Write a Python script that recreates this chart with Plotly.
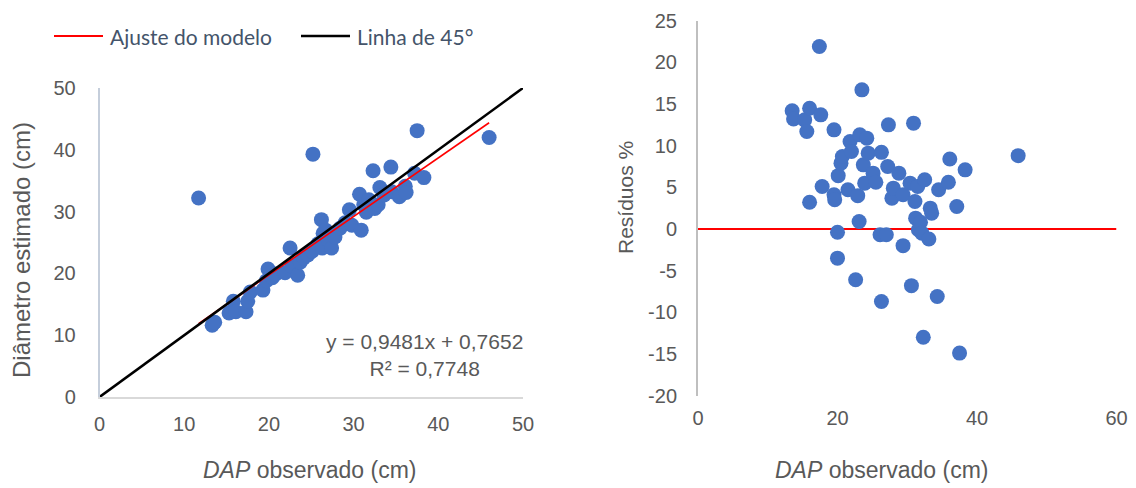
import plotly.graph_objects as go

# ---- Left panel: observed DAP vs estimated diameter ----
dap_obs = [11.7, 13.3, 13.6, 15.3, 15.8, 16.1, 17.3, 17.5, 17.8, 19.3, 19.7, 19.9, 20.4, 20.8,
           21.9, 22.5, 22.7, 23.4, 23.7, 24.1, 24.6, 25.1, 25.2, 25.8, 26.3, 26.2, 26.4, 26.7,
           27.0, 27.4, 27.8, 28.4, 29.0, 29.5, 29.8, 30.7, 30.9, 31.2, 31.5, 31.8, 32.3, 32.5,
           32.9, 33.1, 33.6, 34.4, 34.5, 35.4, 36.1, 36.2, 37.2, 37.5, 38.3, 46.0]
diam_est = [32.2, 11.6, 12.1, 13.6, 15.5, 13.8, 13.8, 15.5, 17.0, 17.3, 18.8, 20.7, 19.3, 19.9,
            20.1, 24.1, 21.2, 19.7, 21.8, 22.5, 23.0, 23.6, 39.3, 24.8, 24.1, 28.7, 26.5, 27.0,
            25.4, 24.1, 25.9, 27.3, 28.2, 30.3, 27.8, 32.8, 27.0, 31.1, 29.9, 31.9, 36.6, 30.5,
            31.1, 33.9, 32.7, 37.2, 33.2, 32.4, 34.1, 33.1, 36.2, 43.1, 35.5, 42.0]

fit_slope = 0.9481
fit_intercept = 0.7652
fit_x = [min(dap_obs), max(dap_obs)]
fit_y = [fit_slope * v + fit_intercept for v in fit_x]
line45 = [0, 50]

# ---- Right panel: residuals ----
res_x = [13.5, 13.7, 15.3, 15.6, 16.0, 17.6, 17.4, 19.5, 16.0, 17.8, 19.5, 19.6, 20.0, 20.0,
         20.1, 20.5, 20.7, 21.5, 21.8, 22.0, 22.6, 22.9, 23.1, 23.2, 23.5, 23.7, 23.9, 24.2,
         24.4, 25.1, 25.5, 26.1, 26.3, 26.3, 27.0, 27.2, 27.3, 27.8, 28.0, 28.8, 29.4, 29.4,
         30.4, 30.6, 30.9, 31.1, 31.2, 31.5, 31.6, 31.9, 32.1, 32.3, 32.5, 33.1, 33.3, 33.5,
         34.3, 34.5, 35.9, 36.1, 37.1, 37.5, 38.3, 45.9]
res_y = [14.2, 13.2, 13.1, 11.7, 14.5, 13.7, 21.9, 11.9, 3.2, 5.1, 4.1, 3.5, -0.4, -3.5,
         6.4, 7.9, 8.7, 4.7, 10.5, 9.3, -6.1, 4.0, 0.9, 11.3, 16.7, 7.7, 5.5, 10.9,
         9.1, 6.7, 5.6, -0.7, 9.2, -8.7, -0.7, 7.5, 12.5, 3.7, 4.9, 6.7, 4.1, -2.0,
         5.5, -6.8, 12.7, 3.3, 1.3, 5.1, -0.1, 0.8, -0.5, -13.0, 5.9, -1.2, 2.5, 1.9,
         -8.1, 4.7, 5.6, 8.4, 2.7, -14.9, 7.1, 8.8]
zero_x = [0, 60]
zero_y = [0, 0]

left_ticks = [0, 10, 20, 30, 40, 50]
right_xticks = [0, 20, 40, 60]
right_yticks = [25, 20, 15, 10, 5, 0, -5, -10, -15, -20]
right_yticklabels = ["25", "20", "15", "10", "5", "0", "-5", "-10", "-15", "-20"]

legend_names = ["Ajuste do modelo", "Linha de 45°"]

BLUE = "#4472C4"
TICK = "#595959"
LEG = "#44546A"
FONT = "Arial"
W, H = 1136, 488

fig = go.Figure()
fig.add_trace(go.Scatter(x=dap_obs, y=diam_est, mode="markers", showlegend=False,
                         marker=dict(color=BLUE, size=15), xaxis="x", yaxis="y"))
fig.add_trace(go.Scatter(x=fit_x, y=fit_y, mode="lines", name=legend_names[0], showlegend=False,
                         line=dict(color="#FF0000", width=1.6), xaxis="x", yaxis="y"))
fig.add_trace(go.Scatter(x=line45, y=line45, mode="lines", name=legend_names[1], showlegend=False,
                         line=dict(color="#000000", width=2.6), xaxis="x", yaxis="y"))
fig.add_trace(go.Scatter(x=zero_x, y=zero_y, mode="lines", showlegend=False,
                         line=dict(color="#FF0000", width=2), xaxis="x2", yaxis="y2"))
fig.add_trace(go.Scatter(x=res_x, y=res_y, mode="markers", showlegend=False,
                         marker=dict(color=BLUE, size=15), xaxis="x2", yaxis="y2"))

ax_common = dict(showgrid=False, zeroline=False, ticks="", automargin=False,
                 tickfont=dict(family=FONT, size=20, color=TICK))

fig.update_layout(
    width=W, height=H,
    paper_bgcolor="white", plot_bgcolor="white",
    margin=dict(l=0, r=0, t=0, b=0, autoexpand=False),
    xaxis=dict(domain=[99.5 / W, 523 / W], range=[0, 50], tickvals=left_ticks,
               showline=True, linecolor="#D9D9D9", linewidth=1.5,
               ticklabelstandoff=8, anchor="y", **ax_common),
    yaxis=dict(domain=[1 - 397 / H, 1 - 88 / H], range=[0, 50], tickvals=left_ticks,
               showline=True, linecolor="#C5CEDB", linewidth=1.5,
               ticklabelstandoff=18, anchor="x", **ax_common),
    xaxis2=dict(domain=[698 / W, 1116.5 / W], range=[0, 60], tickvals=right_xticks,
                showline=False, ticklabelstandoff=8, anchor="y2", **ax_common),
    yaxis2=dict(domain=[1 - 395.6 / H, 1 - 20.7 / H], range=[-20, 25], tickvals=right_yticks,
                ticktext=right_yticklabels,
                showline=True, linecolor="#BFBFBF", linewidth=2,
                ticklabelstandoff=15, anchor="x2", **ax_common),
    showlegend=False,
)

# legend drawn as line samples + labels
leg_y = 1 - 36 / H
leg_items = [(54, 103, "#FF0000", 1.8, legend_names[0], 108),
             (301, 350, "#000000", 2.6, legend_names[1], 355)]
for x0, x1, col, lw, name, tx in leg_items:
    fig.add_shape(type="line", xref="paper", yref="paper", x0=x0 / W, x1=x1 / W,
                  y0=leg_y, y1=leg_y, line=dict(color=col, width=lw))
    fig.add_annotation(xref="paper", yref="paper", x=tx / W, y=1 - 37 / H, text=name,
                       showarrow=False, xanchor="left", yanchor="middle",
                       font=dict(family="Lato", size=21, color=LEG))

title_font = dict(family=FONT, size=23, color=TICK)
fig.add_annotation(xref="paper", yref="paper", x=309 / W, y=1 - 470 / H,
                   text="<i>DAP</i> observado (cm)", showarrow=False, font=title_font,
                   xanchor="center", yanchor="middle")
fig.add_annotation(xref="paper", yref="paper", x=881 / W, y=1 - 470 / H,
                   text="<i>DAP</i> observado (cm)", showarrow=False, font=title_font,
                   xanchor="center", yanchor="middle")
fig.add_annotation(xref="paper", yref="paper", x=22 / W, y=1 - 250 / H,
                   text="Diâmetro estimado (cm)", showarrow=False,
                   font=dict(family=FONT, size=24, color=TICK),
                   textangle=-90, xanchor="center", yanchor="middle")
fig.add_annotation(xref="paper", yref="paper", x=625 / W, y=1 - 198 / H,
                   text="Resíduos %", showarrow=False,
                   font=dict(family=FONT, size=21, color=TICK),
                   textangle=-90, xanchor="center", yanchor="middle")
fig.add_annotation(xref="paper", yref="paper", x=424 / W, y=1 - 355 / H,
                   text="y = 0,9481x + 0,7652<br>R² = 0,7748", showarrow=False,
                   font=dict(family=FONT, size=21, color=TICK), align="center",
                   xanchor="center", yanchor="middle")

fig.write_html("out.html", config={"displayModeBar": False},
               post_script="document.body.style.margin='0px';")
